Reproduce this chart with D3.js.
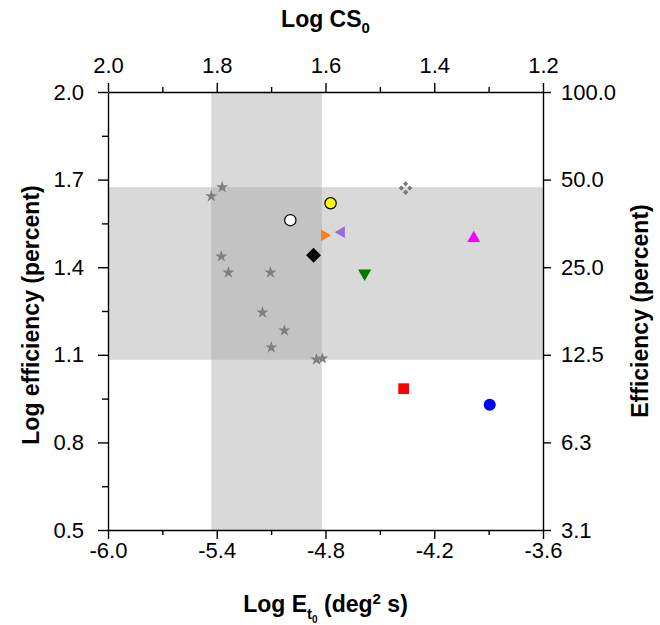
<!DOCTYPE html>
<html>
<head>
<meta charset="utf-8">
<script src="https://cdn.jsdelivr.net/npm/d3@7"></script>
<style>
  html, body { margin: 0; padding: 0; background: #fff; }
  svg { display: block; font-family: "Liberation Sans", Arial, sans-serif; }
  .tick text { font-size: 22px; fill: #000; }
  .domain, .tick line { stroke: #000; stroke-width: 1.4; }
  .title { font-size: 23px; font-weight: bold; fill: #000; }
</style>
</head>
<body>
<svg id="chart" width="660" height="625"></svg>
<script>
// Tick values for the four axes
const bottomTicks = [-6.0, -5.4, -4.8, -4.2, -3.6];
const bottomMinor = [-5.7, -5.1, -4.5, -3.9];
const topTicks = [2.0, 1.8, 1.6, 1.4, 1.2];
const topMinor = [1.9, 1.7, 1.5, 1.3];
const leftTicks = [2.0, 1.7, 1.4, 1.1, 0.8, 0.5];
const leftMinor = [1.85, 1.55, 1.25, 0.95, 0.65];
const rightTicks = [100, 50, 25, 12.5, 6.25, 3.125];

// Shaded normal ranges
const etRange = [-5.43, -4.82];     // Log E_t0
const effRange = [1.083, 1.674];    // Log efficiency

// Control observers (stars)
const starX = [-5.430, -5.370, -5.375, -5.336, -5.104, -5.148, -5.027, -5.099, -4.850, -4.817];
const starY = [1.643, 1.674, 1.437, 1.382, 1.382, 1.245, 1.183, 1.125, 1.084, 1.087];

// Individual observers
const pointIds = ["white", "yellow", "orange", "purple", "black", "green", "grayCross", "magenta", "red", "blue"];
const pointX = [-4.994, -4.772, -4.806, -4.712, -4.866, -4.584, -4.358, -3.982, -4.369, -3.894];
const pointY = [1.561, 1.619, 1.509, 1.520, 1.441, 1.379, 1.671, 1.499, 0.984, 0.929];

// Marker appearance per observer
const markerStyle = {
  white:     { type: d3.symbolCircle,   size: 100, rotate: 0,   fill: "#ffffff", stroke: "#000" },
  yellow:    { type: d3.symbolCircle,   size: 100, rotate: 0,   fill: "#ffff00", stroke: "#000" },
  orange:    { type: d3.symbolTriangle, size: 60,  rotate: 90,  fill: "#ff7f1e", stroke: "none" },
  purple:    { type: d3.symbolTriangle, size: 60,  rotate: -90, fill: "#9370e0", stroke: "none" },
  black:     { type: d3.symbolSquare,   size: 110, rotate: 45,  fill: "#000000", stroke: "none" },
  green:     { type: d3.symbolTriangle, size: 75,  rotate: 180, fill: "#007a00", stroke: "none" },
  grayCross: { type: null,              size: 0,   rotate: 0,   fill: "#7a7a7a", stroke: "none" },
  magenta:   { type: d3.symbolTriangle, size: 75,  rotate: 0,   fill: "#ff00ff", stroke: "none" },
  red:       { type: d3.symbolSquare,   size: 115, rotate: 0,   fill: "#ff0000", stroke: "none" },
  blue:      { type: d3.symbolCircle,   size: 115, rotate: 0,   fill: "#0000ff", stroke: "none" }
};

const plotL = 108, plotR = 543, plotT = 92, plotB = 530;
const svg = d3.select("#chart");

const x = d3.scaleLinear().domain([-6.0, -3.6]).range([plotL, plotR]);
const xTop = d3.scaleLinear().domain([2.0, 1.2]).range([plotL, plotR]);
const y = d3.scaleLinear().domain([0.5, 2.0]).range([plotB, plotT]);
const yRight = d3.scaleLog().base(2).domain([3.125, 100]).range([plotB, plotT]);

// Shaded bands
const bands = svg.append("g");
bands.append("rect")
  .attr("x", plotL).attr("width", plotR - plotL)
  .attr("y", y(effRange[1])).attr("height", y(effRange[0]) - y(effRange[1]))
  .attr("fill", "#d9d9d9");
bands.append("rect")
  .attr("x", x(etRange[0])).attr("width", x(etRange[1]) - x(etRange[0]))
  .attr("y", plotT).attr("height", plotB - plotT)
  .attr("fill", "#d9d9d9");
bands.append("rect")
  .attr("x", x(etRange[0])).attr("width", x(etRange[1]) - x(etRange[0]))
  .attr("y", y(effRange[1])).attr("height", y(effRange[0]) - y(effRange[1]))
  .attr("fill", "#c3c3c3");

// Axes (major ticks with labels, minor ticks without); plain hyphen for negatives
const fmt1 = d => d.toFixed(1);
function addAxis(axisGen, transform, minorGen) {
  const g = svg.append("g").attr("transform", transform).call(axisGen);
  if (minorGen) {
    svg.append("g").attr("transform", transform).call(minorGen)
      .call(s => s.select(".domain").remove())
      .call(s => s.selectAll("text").remove());
  }
  return g;
}
addAxis(d3.axisBottom(x).tickValues(bottomTicks).tickFormat(fmt1).tickSize(9).tickPadding(3).tickSizeOuter(0),
  `translate(0,${plotB})`,
  d3.axisBottom(x).tickValues(bottomMinor).tickSize(5));
addAxis(d3.axisTop(xTop).tickValues(topTicks).tickFormat(fmt1).tickSize(9).tickPadding(10).tickSizeOuter(0),
  `translate(0,${plotT})`,
  d3.axisTop(xTop).tickValues(topMinor).tickSize(5));
addAxis(d3.axisLeft(y).tickValues(leftTicks).tickFormat(fmt1).tickSize(10).tickPadding(14).tickSizeOuter(0),
  `translate(${plotL},0)`,
  d3.axisLeft(y).tickValues(leftMinor).tickSize(6));
addAxis(d3.axisRight(yRight).tickValues(rightTicks).tickFormat(fmt1).tickSize(8).tickPadding(10).tickSizeOuter(0),
  `translate(${plotR},0)`);

// Control observers
svg.append("g").selectAll("path")
  .data(starX.map((v, i) => [v, starY[i]]))
  .join("path")
  .attr("d", d3.symbol(d3.symbolStar, 46))
  .attr("transform", d => `translate(${x(d[0])},${y(d[1])})`)
  .attr("fill", "#7f7f7f");

// Individual observers
const pts = svg.append("g");
pointIds.forEach((id, i) => {
  const st = markerStyle[id];
  const cx = x(pointX[i]), cy = y(pointY[i]);
  if (id === "grayCross") {
    const gg = pts.append("g").attr("transform", `translate(${cx},${cy})`);
    [[0, -4.2], [4.2, 0], [0, 4.2], [-4.2, 0]].forEach(o => {
      gg.append("path")
        .attr("d", d3.symbol(d3.symbolSquare, 14)())
        .attr("transform", `translate(${o[0]},${o[1]}) rotate(45)`)
        .attr("fill", st.fill);
    });
    return;
  }
  pts.append("path")
    .attr("d", d3.symbol(st.type, st.size)())
    .attr("transform", `translate(${cx},${cy}) rotate(${st.rotate})`)
    .attr("fill", st.fill)
    .attr("stroke", st.stroke)
    .attr("stroke-width", 1.2);
});

// Axis titles
const topTitle = svg.append("text").attr("class", "title")
  .attr("x", (plotL + plotR) / 2).attr("y", 27).attr("text-anchor", "middle");
topTitle.append("tspan").text("Log CS");
topTitle.append("tspan").attr("font-size", 15).attr("dy", 6).text("0");

const botTitle = svg.append("text").attr("class", "title")
  .attr("x", (plotL + plotR) / 2).attr("y", 612).attr("text-anchor", "middle");
botTitle.append("tspan").text("Log E");
botTitle.append("tspan").attr("font-size", 15).attr("dy", 7).text("t");
botTitle.append("tspan").attr("font-size", 10).attr("dy", 4).text("0");
botTitle.append("tspan").attr("dy", -11).text(" (deg");
botTitle.append("tspan").attr("font-size", 15).attr("dy", -8).text("2");
botTitle.append("tspan").attr("dy", 8).text(" s)");

svg.append("text").attr("class", "title")
  .attr("transform", `translate(39,${(plotT + plotB) / 2 + 4}) rotate(-90)`)
  .attr("text-anchor", "middle").text("Log efficiency (percent)");

svg.append("text").attr("class", "title")
  .attr("transform", `translate(648,${(plotT + plotB) / 2}) rotate(-90)`)
  .attr("text-anchor", "middle").text("Efficiency (percent)");
</script>
</body>
</html>
